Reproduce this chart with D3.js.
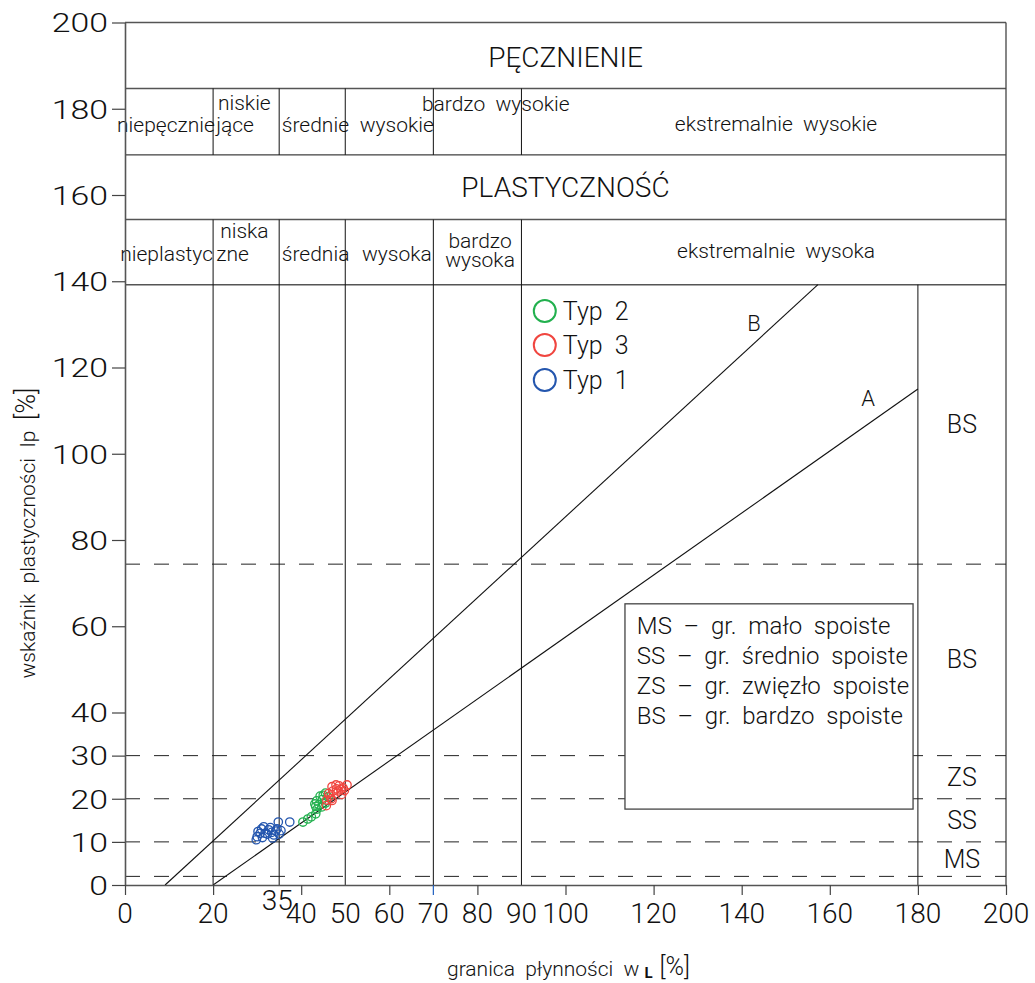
<!DOCTYPE html>
<html><head><meta charset="utf-8">
<script src="https://cdn.jsdelivr.net/npm/d3@7"></script>
<style>
body{margin:0;background:#fff;}
svg{display:block;}
text{font-family:Roboto,"Noto Sans","DejaVu Sans",sans-serif;font-weight:300;fill:#111;white-space:pre;}
</style></head><body><div id="chart"></div>
<script>
// ---------- data ----------
const xTicks = [0,20,40,60,80,100,120,140,160,180,200];
const xTickLabels = [0,20,40,50,60,70,80,90,100,120,140,160,180,200];
const xExtraLabel = 35;
const xMarkerTick = 70;
const yTicks = [0,10,20,30,40,60,80,100,120,140,160,180,200];
const zoneBounds = [20,35,50,70,90];
const outerBound = 180;
const classBounds = [2,10,20,30,74.4];
const headerBounds = [200,184.7,169.3,154.3,139.2];

const headerTitles = [
  {text:"PĘCZNIENIE", x:100, y:189.7},
  {text:"PLASTYCZNOŚĆ", x:100, y:159.5}
];
const swellingLabels = [
  {text:"niepęcznie", x:-1.8, y:174.6, anchor:"start"},
  {text:"jące", x:20.7, y:174.6, anchor:"start"},
  {text:"niskie", x:21.1, y:179.7, anchor:"start"},
  {text:"średnie", x:35.6, y:174.6, anchor:"start"},
  {text:"wysokie", x:53.3, y:174.6, anchor:"start"},
  {text:"bardzo  wysokie", x:67.4, y:179.5, anchor:"start"},
  {text:"ekstremalnie  wysokie", x:147.8, y:174.8, anchor:"middle"}
];
const plasticityLabels = [
  {text:"nieplastyc", x:-1.1, y:144.7, anchor:"start"},
  {text:"zne", x:20.7, y:144.7, anchor:"start"},
  {text:"niska", x:21.6, y:150.0, anchor:"start"},
  {text:"średnia", x:35.6, y:144.7, anchor:"start"},
  {text:"wysoka", x:53.8, y:144.7, anchor:"start"},
  {text:"bardzo", x:80.6, y:147.8, anchor:"middle"},
  {text:"wysoka", x:80.6, y:143.3, anchor:"middle"},
  {text:"ekstremalnie  wysoka", x:147.8, y:145.4, anchor:"middle"}
];
const classLabels = [
  {text:"MS", lo:2, hi:10},
  {text:"SS", lo:10, hi:20},
  {text:"ZS", lo:20, hi:30},
  {text:"BS", lo:30, hi:74.4},
  {text:"BS", lo:74.4, hi:139.2}
];
const classLabelX = 190;
const lineA = [[20,0],[180,115]];
const lineB = [[9.1,0],[157.3,139.2]];
const lineLabels = [{text:"B", x:142.8, y:130.3},{text:"A", x:168.7, y:112.9}];

const classLegendBox = {x0:113.5, x1:178.9, y0:65.2, y1:17.6};
const classLegendTexts = [
  "MS  –  gr.  mało  spoiste",
  "SS  –  gr.  średnio  spoiste",
  "ZS  –  gr.  zwięzło  spoiste",
  "BS  –  gr.  bardzo  spoiste"
];
const classLegendTextX = 116.2;
const classLegendTextY = [58.1, 51.2, 44.2, 37.3];

const typ1 = [[29.8,10.5],[30.0,11.2],[30.2,12.4],[30.7,12.0],[31.0,13.0],[31.5,13.5],[31.8,12.0],[32.3,11.8],[32.6,12.8],[33.0,13.3],[33.3,12.2],[33.8,11.6],[34.2,12.5],[34.5,13.0],[35.0,11.8],[35.4,12.6],[34.8,14.6],[37.4,14.6],[31.2,11.0],[33.5,10.9]];
const typ2 = [[40.4,14.6],[41.5,15.3],[42.3,15.8],[43.3,16.5],[43.6,17.6],[43.1,18.8],[43.5,19.5],[44.3,20.6],[45.5,21.3],[46.1,20.4],[44.7,18.1],[45.5,19.0],[44.0,18.6],[43.3,18.2],[44.8,19.8],[45.0,20.8]];
const typ3 = [[47.0,22.8],[47.9,23.2],[48.6,23.0],[49.5,22.5],[50.4,23.2],[48.4,21.8],[47.2,21.8],[46.5,20.6],[45.8,19.7],[45.7,18.4],[47.0,19.6],[49.2,21.0],[49.8,21.9],[46.2,21.2],[48.0,22.3],[49.0,22.2],[46.8,20.0]];

const seriesNames = ["Typ  2","Typ  3","Typ  1"];
const seriesColors = ["#22b04e","#f0453f","#2456ae"];
const seriesData = [typ2, typ3, typ1];
const legendX = 95.3, legendTextX = 99.4;
const legendY = [133.1, 125.2, 117.1];

// ---------- chart ----------
const W = 1035, H = 983;
const svg = d3.select("#chart").append("svg").attr("width", W).attr("height", H);
const x = d3.scaleLinear().domain([0,200]).range([125,1006]);
const y = d3.scaleLinear().domain([0,200]).range([885,22.5]);

// header horizontal lines
svg.append("g").selectAll("line").data(headerBounds).join("line")
  .attr("x1", x(0)).attr("x2", x(200))
  .attr("y1", d => y(d)).attr("y2", d => y(d))
  .attr("stroke", (d,i) => i===2 ? "#111" : "#555").attr("stroke-width", (d,i)=> i===2?1:1.5);

// vertical zone lines: swelling row
svg.append("g").selectAll("line").data(zoneBounds).join("line")
  .attr("x1", d => x(d)).attr("x2", d => x(d))
  .attr("y1", y(headerBounds[1])).attr("y2", y(headerBounds[2]))
  .attr("stroke", "#111").attr("stroke-width", 1);
// plasticity row + plot
svg.append("g").selectAll("line").data(zoneBounds).join("line")
  .attr("x1", d => x(d)).attr("x2", d => x(d))
  .attr("y1", y(headerBounds[3])).attr("y2", y(0))
  .attr("stroke", "#111").attr("stroke-width", 1);
svg.append("line").attr("x1", x(outerBound)).attr("x2", x(outerBound))
  .attr("y1", y(headerBounds[4])).attr("y2", y(0)).attr("stroke", "#111");
svg.append("line").attr("x1", x(200)).attr("x2", x(200))
  .attr("y1", y(200)).attr("y2", y(0)).attr("stroke", "#444").attr("stroke-width", 1.3);

// dashed class lines
svg.append("g").selectAll("line").data(classBounds).join("line")
  .attr("x1", x(0)).attr("x2", x(200))
  .attr("y1", d => y(d)).attr("y2", d => y(d))
  .attr("stroke", "#222").attr("stroke-width", 1).attr("stroke-dasharray", "15,14");

// A and B lines
const lg = d3.line().x(d => x(d[0])).y(d => y(d[1]));
svg.append("path").attr("d", lg(lineA)).attr("fill","none").attr("stroke","#111").attr("stroke-width",1.1);
svg.append("path").attr("d", lg(lineB)).attr("fill","none").attr("stroke","#111").attr("stroke-width",1.1);
svg.append("g").selectAll("text").data(lineLabels).join("text")
  .attr("x", d => x(d.x)).attr("y", d => y(d.y)).attr("text-anchor","middle")
  .attr("dominant-baseline","central").attr("font-size", 22).text(d => d.text);

// class legend box
svg.append("rect")
  .attr("x", x(classLegendBox.x0)).attr("y", y(classLegendBox.y0))
  .attr("width", x(classLegendBox.x1)-x(classLegendBox.x0))
  .attr("height", y(classLegendBox.y1)-y(classLegendBox.y0))
  .attr("fill","#fff").attr("stroke","#444").attr("stroke-width",1.3);
svg.append("g").selectAll("text").data(classLegendTexts).join("text")
  .attr("x", x(classLegendTextX)).attr("y", (d,i) => y(classLegendTextY[i]))
  .attr("font-size", 24).text(d => d);

// header texts
svg.append("g").selectAll("text").data(headerTitles).join("text")
  .attr("x", d => x(d.x)).attr("y", d => y(d.y)).attr("text-anchor","middle")
  .attr("font-size", 28).text(d => d.text);
svg.append("g").selectAll("text").data(swellingLabels.concat(plasticityLabels)).join("text")
  .attr("x", d => x(d.x)).attr("y", d => y(d.y)).attr("text-anchor", d => d.anchor)
  .attr("font-size", 21).text(d => d.text);

// class labels on right
svg.append("g").selectAll("text").data(classLabels).join("text")
  .attr("x", x(classLabelX)).attr("y", d => y((d.lo+d.hi)/2))
  .attr("text-anchor","middle").attr("dominant-baseline","central")
  .attr("font-size", 25).text(d => d.text);

// series legend
const leg = svg.append("g").selectAll("g").data(seriesNames).join("g");
leg.append("circle").attr("cx", x(legendX)).attr("cy", (d,i) => y(legendY[i])).attr("r", 11)
  .attr("fill","none").attr("stroke", (d,i) => seriesColors[i]).attr("stroke-width", 2);
leg.append("text").attr("x", x(legendTextX)).attr("y", (d,i) => y(legendY[i]))
  .attr("dominant-baseline","central").attr("font-size", 25).text(d => d);

// points
seriesData.forEach((s, i) => {
  svg.append("g").selectAll("circle").data(s).join("circle")
    .attr("cx", d => x(d[0])).attr("cy", d => y(d[1])).attr("r", 4.2)
    .attr("fill","none").attr("stroke", seriesColors[i]).attr("stroke-width", 1.3);
});

// axes
const yAxis = svg.append("g").attr("transform", `translate(${x(0)},0)`)
  .call(d3.axisLeft(y).tickValues(yTicks).tickSize(13).tickSizeOuter(0).tickFormat(d3.format("d")));
yAxis.select(".domain").attr("stroke","#555").attr("stroke-width",1.6);
yAxis.selectAll(".tick line").attr("stroke","#444").attr("stroke-width",1.2);
yAxis.selectAll(".tick text")
  .attr("font-size", 26).attr("font-family", null).attr("fill", "#222")
  .attr("x", -17/1.3).attr("dy", "0.36em").attr("transform","scale(1.3,1)");

const xAxis = svg.append("g").attr("transform", `translate(0,${y(0)})`)
  .call(d3.axisBottom(x).tickValues(xTicks).tickSize(10).tickSizeOuter(0).tickFormat(""));
xAxis.select(".domain").attr("stroke","#555").attr("stroke-width",1.6);
xAxis.selectAll(".tick line").attr("stroke","#444").attr("stroke-width",1.2);
svg.append("line").attr("x1", x(xMarkerTick)).attr("x2", x(xMarkerTick))
  .attr("y1", y(0)).attr("y2", y(0)+10).attr("stroke","#1f5fbf").attr("stroke-width",1.2);

svg.append("g").selectAll("text").data(xTickLabels).join("text")
  .attr("x", d => x(d)).attr("y", 923).attr("text-anchor","middle")
  .attr("font-size", 28).attr("fill", "#222").text(d => d);
svg.append("text").attr("x", x(xExtraLabel) - 2).attr("y", 910).attr("text-anchor","middle")
  .attr("font-size", 28).attr("fill", "#222").text(xExtraLabel);

// axis titles
const xt = svg.append("text").attr("x", 447).attr("y", 976).attr("font-size", 21);
xt.append("tspan").text("granica  płynności  w");
xt.append("tspan").attr("font-size", 15).attr("font-weight", 700).attr("dx", 5).attr("dy", 2).text("L");
xt.append("tspan").attr("font-size", 25).attr("dx", 7).attr("dy", -3).text("[%]");

const yt = svg.append("text").attr("transform", "translate(35,533) rotate(-90)")
  .attr("text-anchor","middle").attr("font-size", 21);
yt.append("tspan").text("wskaźnik  plastyczności  Ip  ");
yt.append("tspan").attr("font-size", 27).text("[%]");
</script></body></html>
